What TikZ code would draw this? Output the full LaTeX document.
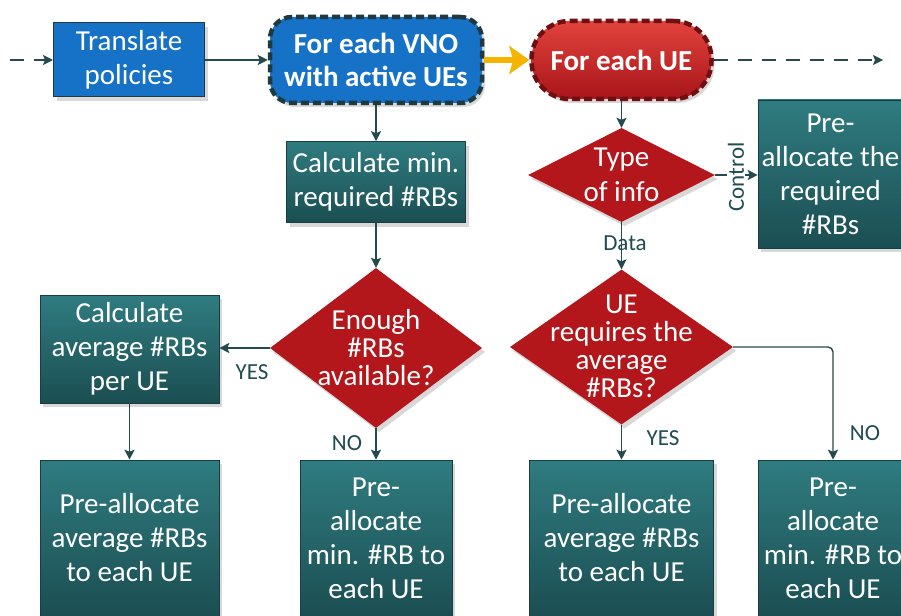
\documentclass[tikz,border=0pt]{standalone}
\usepackage{fontspec}
\setmainfont{Carlito}
\usetikzlibrary{shapes.geometric,arrows.meta,shadows}
\definecolor{lnc}{HTML}{254A4E}
\definecolor{tealT}{HTML}{2F7C80}
\definecolor{tealB}{HTML}{1B4E52}
\definecolor{tealD}{HTML}{173E41}
\definecolor{blueF}{HTML}{1672C6}
\definecolor{blueD}{HTML}{1E3A40}
\definecolor{redF}{HTML}{B3161B}
\definecolor{redT}{HTML}{E2433C}
\definecolor{redB}{HTML}{A8151A}
\definecolor{redD}{HTML}{6E1012}
\definecolor{yel}{HTML}{F5B400}
\definecolor{lbl}{HTML}{1F4C52}
\tikzset{
  txt/.style={font=\fontsize{29}{34}\selectfont, text=white, align=center, inner sep=0pt},
  shad/.style={drop shadow={shadow xshift=3pt,shadow yshift=-4pt,opacity=0.3}},
  tealbox/.style={txt, shad, draw=tealD, line width=0.6pt, top color=tealT, bottom color=tealB},
  bluebox/.style={txt, shad, draw=blueD, line width=1pt, fill=blueF, font=\fontsize{29}{34}\selectfont},
  vnobox/.style={txt, shad, fill=blueF, draw=blueD, line width=4.5pt, dash pattern=on 8pt off 4pt, rounded corners=22pt, font=\bfseries\fontsize{29}{33}\selectfont},
  uebox/.style={txt, shad, top color=redT, bottom color=redB, draw=redD, line width=4.5pt, dash pattern=on 8pt off 4pt, rounded corners=38pt, font=\bfseries\fontsize{29}{32}\selectfont},
  dia/.style={diamond, fill=redF, draw=none, inner sep=0pt, shad},
  dtxt/.style={txt, font=\fontsize{29}{28}\selectfont},
  lab/.style={font=\fontsize{23}{25}\selectfont, text=lbl, inner sep=1pt},
  arr/.style={draw=lnc, line width=1.4pt, -{Stealth[length=10pt,width=10pt,inset=2pt]}},
  yarr/.style={draw=yel, line width=6pt, -{Stealth[length=20pt,width=28pt,inset=4pt]}},
  dsh/.style={dash pattern=on 14pt off 10pt}
}
\begin{document}
\begin{tikzpicture}[x=1pt,y=-1pt]
\useasboundingbox (0,0) rectangle (901,615);
\clip (0,0) rectangle (901,615);
\fill[white] (0,0) rectangle (901,615);
% top row
\node[bluebox, minimum width=151pt, minimum height=74pt] (trans) at (129,60) {Translate\\policies};
\node[vnobox, minimum width=212pt, minimum height=86pt] (vno) at (376,60) {For each VNO\\with active UEs};
\node[uebox, minimum width=180pt, minimum height=78pt] (ue) at (621.5,60) {For each UE};
\coordinate (startc) at (10,60);
\coordinate (endc) at (883,60);
% middle column
\node[tealbox, minimum width=179pt, minimum height=81pt] (calcmin) at (376,182) {Calculate min.\\required \#RBs};
\node[dia, minimum width=212pt, minimum height=160pt] (enough) at (376,348) {};
\node[dtxt] (enoughT) at (376,348) {Enough\\\#RBs\\available?};
\node[tealbox, minimum width=179pt, minimum height=108pt] (calcavg) at (129.5,349) {Calculate\\average \#RBs\\per UE};
\node[tealbox, minimum width=179pt, minimum height=156pt] (preavgL) at (129.5,538) {Pre-allocate\\average \#RBs\\to each UE};
\node[tealbox, minimum width=152pt, minimum height=156pt] (preminL) at (376,538) {Pre-\\allocate\\min. \#RB to\\each UE};
% right column
\node[dia, minimum width=187pt, minimum height=94pt] (type) at (621.5,175) {};
\node[dtxt, font=\fontsize{29}{35}\selectfont] (typeT) at (621.5,175) {Type\\of info};
\node[tealbox, minimum width=145pt, minimum height=148pt] (prereq) at (830.5,174) {Pre-\\allocate the\\required\\\#RBs};
\node[dia, minimum width=223pt, minimum height=155pt] (uereq) at (621.5,347) {};
\node[dtxt] (uereqT) at (621.5,346) {UE\\requires the\\average\\\#RBs?};
\node[tealbox, minimum width=184pt, minimum height=156pt] (preavgR) at (621.5,538) {Pre-allocate\\average \#RBs\\to each UE};
\node[tealbox, minimum width=150pt, minimum height=156pt] (preminR) at (833,538) {Pre-\\allocate\\min. \#RB to\\each UE};
% connectors
\draw[arr, dsh] (startc) -- (trans.west);
\draw[arr] (trans.east) -- (vno.west);
\draw[yarr] (vno.east) -- (ue.west);
\draw[arr, dsh] (ue.east) -- (endc);
\draw[arr] (vno.south) -- (calcmin.north);
\draw[arr] (calcmin.south) -- (enough.north);
\draw[arr] (enough.west) -- (calcavg.east |- enough.west);
\draw[arr] (calcavg.south) -- (preavgL.north);
\draw[arr] (enough.south) -- (preminL.north);
\draw[arr] (ue.south) -- (type.north);
\draw[arr] (type.east) -- (prereq.west |- type.east);
\draw[arr] (type.south) -- (uereq.north);
\draw[arr] (uereq.south) -- (preavgR.north);
\draw[arr, rounded corners=5pt] (uereq.east) -| (preminR.north);
% labels
\node[lab] (yesL) at (252,372) {YES};
\node[lab] (noL) at (347,443) {NO};
\node[lab] (dataL) at (625,243) {Data};
\node[lab, fill=white, rotate=90] (ctrlL) at (736,177) {Control};
\node[lab] (yesR) at (663,438) {YES};
\node[lab] (noR) at (865,433) {NO};
\end{tikzpicture}
\end{document}
